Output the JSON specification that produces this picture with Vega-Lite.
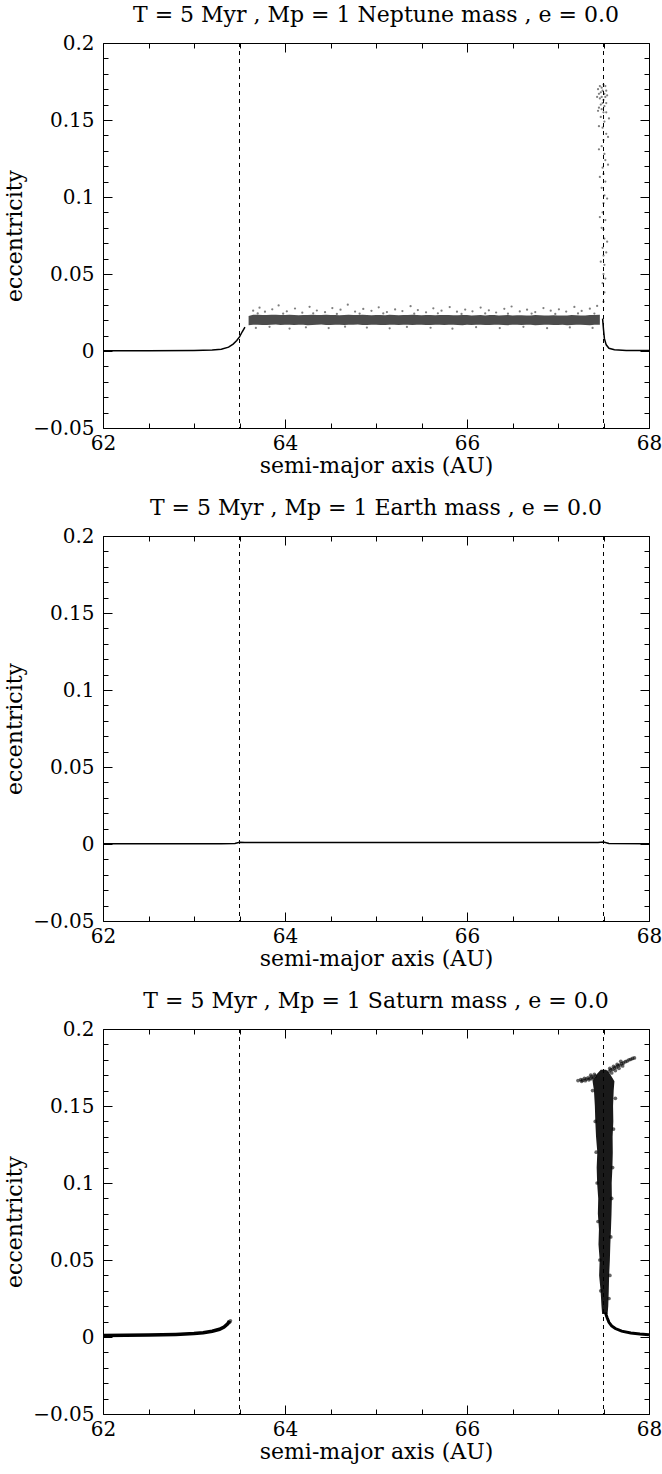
{
  "$schema": "https://vega.github.io/schema/vega-lite/v6.json",
  "padding": {"left": 3, "top": 3, "right": 10, "bottom": 2},
  "spacing": 19,
  "config": {
    "view": {"stroke": "black", "strokeWidth": 1},
    "axis": {"labelFont": "DejaVu Serif", "labelFontSize": 20, "labelColor": "black", "titleFont": "DejaVu Serif", "titleFontSize": 22, "titleFontWeight": "normal", "titleColor": "black", "tickColor": "black", "tickWidth": 1, "labelFlush": false, "grid": false, "domain": false},
    "title": {"font": "DejaVu Serif", "fontSize": 22, "fontWeight": "normal", "color": "black", "offset": 6, "anchor": "middle"}
  },
  "datasets": {
    "frame": [{"a": 62, "e": -0.05}, {"a": 68, "e": 0.2}],
    "vl": [{"a": 63.5}, {"a": 67.5}],
    "n_line1": [{"a": 62, "e": 0.0002}, {"a": 62.5, "e": 0.0002}, {"a": 63, "e": 0.0003}, {"a": 63.2, "e": 0.0006}, {"a": 63.3, "e": 0.0012}, {"a": 63.38, "e": 0.0025}, {"a": 63.43, "e": 0.0045}, {"a": 63.47, "e": 0.0068}, {"a": 63.5, "e": 0.0092}, {"a": 63.53, "e": 0.0125}, {"a": 63.56, "e": 0.0155}],
    "n_line2": [{"a": 67.49, "e": 0.021}, {"a": 67.5, "e": 0.014}, {"a": 67.51, "e": 0.008}, {"a": 67.53, "e": 0.004}, {"a": 67.56, "e": 0.0018}, {"a": 67.62, "e": 0.0008}, {"a": 67.75, "e": 0.0004}, {"a": 68, "e": 0.0003}],
    "n_band": [
      {"a": 63.6, "lo": 0.0167, "hi": 0.0228}, {"a": 63.65, "lo": 0.017, "hi": 0.0235}, {"a": 63.7, "lo": 0.0171, "hi": 0.0236}, {"a": 63.75, "lo": 0.0169, "hi": 0.0233}, {"a": 63.8, "lo": 0.0169, "hi": 0.0234}, {"a": 63.85, "lo": 0.0171, "hi": 0.0236}, {"a": 63.9, "lo": 0.0172, "hi": 0.0236}, {"a": 63.95, "lo": 0.0169, "hi": 0.0233}, {"a": 64.0, "lo": 0.017, "hi": 0.0234},
      {"a": 64.05, "lo": 0.0171, "hi": 0.0235}, {"a": 64.1, "lo": 0.0169, "hi": 0.0234}, {"a": 64.15, "lo": 0.017, "hi": 0.0232}, {"a": 64.2, "lo": 0.0171, "hi": 0.0233}, {"a": 64.25, "lo": 0.0168, "hi": 0.0234}, {"a": 64.3, "lo": 0.0169, "hi": 0.0235}, {"a": 64.35, "lo": 0.0171, "hi": 0.0233}, {"a": 64.4, "lo": 0.0172, "hi": 0.0233}, {"a": 64.45, "lo": 0.0169, "hi": 0.0235}, {"a": 64.5, "lo": 0.0169, "hi": 0.0234},
      {"a": 64.55, "lo": 0.0171, "hi": 0.0233}, {"a": 64.6, "lo": 0.0171, "hi": 0.0232}, {"a": 64.65, "lo": 0.0169, "hi": 0.0234}, {"a": 64.7, "lo": 0.017, "hi": 0.0235}, {"a": 64.75, "lo": 0.0171, "hi": 0.0233}, {"a": 64.8, "lo": 0.0172, "hi": 0.0233}, {"a": 64.85, "lo": 0.0169, "hi": 0.0235}, {"a": 64.9, "lo": 0.0169, "hi": 0.0233}, {"a": 64.95, "lo": 0.0171, "hi": 0.0232}, {"a": 65.0, "lo": 0.0171, "hi": 0.0234},
      {"a": 65.05, "lo": 0.0169, "hi": 0.0233}, {"a": 65.1, "lo": 0.0169, "hi": 0.0232}, {"a": 65.15, "lo": 0.0171, "hi": 0.0235}, {"a": 65.2, "lo": 0.017, "hi": 0.0234}, {"a": 65.25, "lo": 0.0169, "hi": 0.0232}, {"a": 65.3, "lo": 0.0171, "hi": 0.0233}, {"a": 65.35, "lo": 0.017, "hi": 0.0234}, {"a": 65.4, "lo": 0.0169, "hi": 0.0235}, {"a": 65.45, "lo": 0.0171, "hi": 0.0233}, {"a": 65.5, "lo": 0.0171, "hi": 0.0232},
      {"a": 65.55, "lo": 0.0169, "hi": 0.0234}, {"a": 65.6, "lo": 0.0169, "hi": 0.0233}, {"a": 65.65, "lo": 0.0171, "hi": 0.0232}, {"a": 65.7, "lo": 0.0171, "hi": 0.0233}, {"a": 65.75, "lo": 0.0169, "hi": 0.0234}, {"a": 65.8, "lo": 0.017, "hi": 0.0234}, {"a": 65.85, "lo": 0.0171, "hi": 0.0232}, {"a": 65.9, "lo": 0.0169, "hi": 0.0232}, {"a": 65.95, "lo": 0.0168, "hi": 0.0233}, {"a": 66.0, "lo": 0.0171, "hi": 0.0233},
      {"a": 66.05, "lo": 0.0169, "hi": 0.0231}, {"a": 66.1, "lo": 0.017, "hi": 0.0232}, {"a": 66.15, "lo": 0.0171, "hi": 0.0234}, {"a": 66.2, "lo": 0.0169, "hi": 0.0231}, {"a": 66.25, "lo": 0.0169, "hi": 0.0233}, {"a": 66.3, "lo": 0.0171, "hi": 0.0233}, {"a": 66.35, "lo": 0.0171, "hi": 0.0231}, {"a": 66.4, "lo": 0.0169, "hi": 0.0232}, {"a": 66.45, "lo": 0.0168, "hi": 0.0233}, {"a": 66.5, "lo": 0.0171, "hi": 0.0231},
      {"a": 66.55, "lo": 0.017, "hi": 0.0232}, {"a": 66.6, "lo": 0.0169, "hi": 0.0232}, {"a": 66.65, "lo": 0.0171, "hi": 0.0231}, {"a": 66.7, "lo": 0.017, "hi": 0.0231}, {"a": 66.75, "lo": 0.0168, "hi": 0.0233}, {"a": 66.8, "lo": 0.0169, "hi": 0.0232}, {"a": 66.85, "lo": 0.0171, "hi": 0.0231}, {"a": 66.9, "lo": 0.0171, "hi": 0.023}, {"a": 66.95, "lo": 0.0169, "hi": 0.0232}, {"a": 67.0, "lo": 0.0169, "hi": 0.0231},
      {"a": 67.05, "lo": 0.0171, "hi": 0.023}, {"a": 67.1, "lo": 0.0168, "hi": 0.0231}, {"a": 67.15, "lo": 0.0169, "hi": 0.0233}, {"a": 67.2, "lo": 0.017, "hi": 0.0232}, {"a": 67.25, "lo": 0.0171, "hi": 0.0231}, {"a": 67.3, "lo": 0.0169, "hi": 0.0231}, {"a": 67.35, "lo": 0.0168, "hi": 0.0233}, {"a": 67.4, "lo": 0.017, "hi": 0.0233}, {"a": 67.46, "lo": 0.017, "hi": 0.0236}
    ],
    "n_pts": [
      {"a": 63.65, "e": 0.0262}, {"a": 63.72, "e": 0.0281}, {"a": 63.78, "e": 0.0255}, {"a": 63.86, "e": 0.0271}, {"a": 63.93, "e": 0.0296}, {"a": 64.02, "e": 0.0258}, {"a": 64.11, "e": 0.0276}, {"a": 64.19, "e": 0.0249}, {"a": 64.27, "e": 0.0287}, {"a": 64.35, "e": 0.0263},
      {"a": 64.44, "e": 0.0252}, {"a": 64.52, "e": 0.0279}, {"a": 64.61, "e": 0.0268}, {"a": 64.69, "e": 0.0301}, {"a": 64.77, "e": 0.0256}, {"a": 64.86, "e": 0.0273}, {"a": 64.95, "e": 0.0261}, {"a": 65.03, "e": 0.0284}, {"a": 65.12, "e": 0.0253}, {"a": 65.21, "e": 0.027},
      {"a": 65.29, "e": 0.0259}, {"a": 65.38, "e": 0.0291}, {"a": 65.46, "e": 0.0266}, {"a": 65.55, "e": 0.0251}, {"a": 65.63, "e": 0.0277}, {"a": 65.72, "e": 0.0262}, {"a": 65.81, "e": 0.0285}, {"a": 65.89, "e": 0.0255}, {"a": 65.98, "e": 0.0269}, {"a": 66.06, "e": 0.0258},
      {"a": 66.15, "e": 0.0282}, {"a": 66.24, "e": 0.0264}, {"a": 66.32, "e": 0.025}, {"a": 66.41, "e": 0.0274}, {"a": 66.49, "e": 0.0289}, {"a": 66.58, "e": 0.0257}, {"a": 66.66, "e": 0.0268}, {"a": 66.75, "e": 0.0253}, {"a": 66.84, "e": 0.0279}, {"a": 66.92, "e": 0.0262},
      {"a": 67.01, "e": 0.0271}, {"a": 67.09, "e": 0.0256}, {"a": 67.18, "e": 0.0286}, {"a": 67.26, "e": 0.026}, {"a": 67.35, "e": 0.0275}, {"a": 67.43, "e": 0.0293},
      {"a": 63.7, "e": 0.0244}, {"a": 63.98, "e": 0.0242}, {"a": 64.31, "e": 0.0245}, {"a": 64.57, "e": 0.0241}, {"a": 64.82, "e": 0.0243}, {"a": 65.08, "e": 0.0244}, {"a": 65.42, "e": 0.0242}, {"a": 65.68, "e": 0.0245}, {"a": 65.94, "e": 0.0241},
      {"a": 66.2, "e": 0.0244}, {"a": 66.45, "e": 0.0242}, {"a": 66.71, "e": 0.0243}, {"a": 66.97, "e": 0.0241}, {"a": 67.22, "e": 0.0244}, {"a": 67.4, "e": 0.0243},
      {"a": 63.68, "e": 0.015}, {"a": 63.83, "e": 0.0157}, {"a": 64.05, "e": 0.0146}, {"a": 64.23, "e": 0.0154}, {"a": 64.48, "e": 0.0149}, {"a": 64.66, "e": 0.0158}, {"a": 64.9, "e": 0.0152}, {"a": 65.15, "e": 0.0147}, {"a": 65.34, "e": 0.0156},
      {"a": 65.6, "e": 0.0151}, {"a": 65.84, "e": 0.0145}, {"a": 66.1, "e": 0.0155}, {"a": 66.36, "e": 0.0149}, {"a": 66.62, "e": 0.0157}, {"a": 66.88, "e": 0.0148}, {"a": 67.13, "e": 0.0153}, {"a": 67.38, "e": 0.015},
      {"a": 67.5, "e": 0.032}, {"a": 67.51, "e": 0.038}, {"a": 67.49, "e": 0.044}, {"a": 67.5, "e": 0.05}, {"a": 67.51, "e": 0.056}, {"a": 67.5, "e": 0.062}, {"a": 67.49, "e": 0.067}, {"a": 67.51, "e": 0.073}, {"a": 67.5, "e": 0.079}, {"a": 67.52, "e": 0.085},
      {"a": 67.49, "e": 0.09}, {"a": 67.5, "e": 0.096}, {"a": 67.51, "e": 0.101}, {"a": 67.48, "e": 0.106}, {"a": 67.52, "e": 0.11}, {"a": 67.5, "e": 0.115}, {"a": 67.49, "e": 0.119}, {"a": 67.52, "e": 0.124}, {"a": 67.51, "e": 0.128}, {"a": 67.48, "e": 0.133},
      {"a": 67.5, "e": 0.137}, {"a": 67.53, "e": 0.141}, {"a": 67.49, "e": 0.145}, {"a": 67.51, "e": 0.149}, {"a": 67.47, "e": 0.152}, {"a": 67.53, "e": 0.155},
      {"a": 67.47, "e": 0.058}, {"a": 67.54, "e": 0.071}, {"a": 67.46, "e": 0.087}, {"a": 67.54, "e": 0.099}, {"a": 67.46, "e": 0.113}, {"a": 67.55, "e": 0.121}, {"a": 67.45, "e": 0.131}, {"a": 67.55, "e": 0.139}, {"a": 67.45, "e": 0.146}, {"a": 67.56, "e": 0.151},
      {"a": 67.44, "e": 0.156}, {"a": 67.52, "e": 0.047}, {"a": 67.48, "e": 0.08}, {"a": 67.53, "e": 0.064},
      {"a": 67.44, "e": 0.17}, {"a": 67.46, "e": 0.172}, {"a": 67.48, "e": 0.171}, {"a": 67.5, "e": 0.173}, {"a": 67.52, "e": 0.172}, {"a": 67.45, "e": 0.167}, {"a": 67.47, "e": 0.168}, {"a": 67.49, "e": 0.169}, {"a": 67.51, "e": 0.167}, {"a": 67.53, "e": 0.169},
      {"a": 67.46, "e": 0.164}, {"a": 67.48, "e": 0.165}, {"a": 67.5, "e": 0.163}, {"a": 67.52, "e": 0.165}, {"a": 67.47, "e": 0.16}, {"a": 67.49, "e": 0.161}, {"a": 67.51, "e": 0.159}, {"a": 67.45, "e": 0.158}, {"a": 67.53, "e": 0.161}, {"a": 67.48, "e": 0.157},
      {"a": 67.5, "e": 0.155}, {"a": 67.54, "e": 0.166}, {"a": 67.43, "e": 0.165}
    ],
    "e_line": [{"a": 62, "e": 0.0002}, {"a": 63.3, "e": 0.0002}, {"a": 63.45, "e": 0.0004}, {"a": 63.5, "e": 0.0012}, {"a": 63.56, "e": 0.001}, {"a": 65.5, "e": 0.0009}, {"a": 67.44, "e": 0.001}, {"a": 67.5, "e": 0.0013}, {"a": 67.56, "e": 0.0004}, {"a": 68, "e": 0.0002}],
    "s_line1": [{"a": 62, "e": 0.001}, {"a": 62.5, "e": 0.0013}, {"a": 62.8, "e": 0.0017}, {"a": 63, "e": 0.0022}, {"a": 63.1, "e": 0.0028}, {"a": 63.2, "e": 0.0037}, {"a": 63.28, "e": 0.005}, {"a": 63.33, "e": 0.0065}, {"a": 63.37, "e": 0.0085}, {"a": 63.39, "e": 0.0105}],
    "s_line2": [{"a": 67.52, "e": 0.016}, {"a": 67.54, "e": 0.0125}, {"a": 67.56, "e": 0.0095}, {"a": 67.59, "e": 0.0072}, {"a": 67.63, "e": 0.0055}, {"a": 67.7, "e": 0.0038}, {"a": 67.8, "e": 0.0026}, {"a": 67.9, "e": 0.0019}, {"a": 68, "e": 0.0015}],
    "s_col": [
      {"e": 0.015, "a1": 67.485, "a2": 67.545}, {"e": 0.02, "a1": 67.478, "a2": 67.552}, {"e": 0.03, "a1": 67.468, "a2": 67.558}, {"e": 0.04, "a1": 67.452, "a2": 67.562}, {"e": 0.05, "a1": 67.458, "a2": 67.57},
      {"e": 0.06, "a1": 67.445, "a2": 67.575}, {"e": 0.07, "a1": 67.45, "a2": 67.582}, {"e": 0.08, "a1": 67.438, "a2": 67.588}, {"e": 0.09, "a1": 67.442, "a2": 67.592}, {"e": 0.1, "a1": 67.43, "a2": 67.59},
      {"e": 0.11, "a1": 67.425, "a2": 67.598}, {"e": 0.12, "a1": 67.432, "a2": 67.602}, {"e": 0.13, "a1": 67.418, "a2": 67.6}, {"e": 0.14, "a1": 67.41, "a2": 67.608}, {"e": 0.15, "a1": 67.405, "a2": 67.605},
      {"e": 0.16, "a1": 67.395, "a2": 67.612}, {"e": 0.166, "a1": 67.38, "a2": 67.62}, {"e": 0.171, "a1": 67.43, "a2": 67.57}, {"e": 0.1735, "a1": 67.47, "a2": 67.53}
    ],
    "s_pts": [
      {"a": 67.22, "e": 0.1665}, {"a": 67.25, "e": 0.1672}, {"a": 67.27, "e": 0.1668}, {"a": 67.29, "e": 0.168}, {"a": 67.31, "e": 0.1675}, {"a": 67.33, "e": 0.1683}, {"a": 67.35, "e": 0.1678}, {"a": 67.37, "e": 0.169}, {"a": 67.39, "e": 0.1685}, {"a": 67.41, "e": 0.1695},
      {"a": 67.26, "e": 0.166}, {"a": 67.3, "e": 0.1664}, {"a": 67.34, "e": 0.167}, {"a": 67.38, "e": 0.1676}, {"a": 67.36, "e": 0.17}, {"a": 67.4, "e": 0.1705},
      {"a": 67.56, "e": 0.1725}, {"a": 67.58, "e": 0.1735}, {"a": 67.6, "e": 0.1738}, {"a": 67.62, "e": 0.1748}, {"a": 67.64, "e": 0.1752}, {"a": 67.66, "e": 0.1762}, {"a": 67.68, "e": 0.1766}, {"a": 67.7, "e": 0.1775}, {"a": 67.72, "e": 0.178}, {"a": 67.74, "e": 0.1788},
      {"a": 67.76, "e": 0.1792}, {"a": 67.78, "e": 0.18}, {"a": 67.8, "e": 0.1803}, {"a": 67.82, "e": 0.1809}, {"a": 67.84, "e": 0.1812}, {"a": 67.59, "e": 0.1715}, {"a": 67.63, "e": 0.173}, {"a": 67.67, "e": 0.1745}, {"a": 67.71, "e": 0.176}, {"a": 67.57, "e": 0.1745},
      {"a": 67.61, "e": 0.1758}, {"a": 67.65, "e": 0.177}, {"a": 67.69, "e": 0.179},
      {"a": 67.38, "e": 0.16}, {"a": 67.63, "e": 0.155}, {"a": 67.41, "e": 0.14}, {"a": 67.61, "e": 0.135}, {"a": 67.42, "e": 0.12}, {"a": 67.6, "e": 0.11}, {"a": 67.43, "e": 0.1}, {"a": 67.59, "e": 0.09}, {"a": 67.44, "e": 0.075}, {"a": 67.58, "e": 0.065},
      {"a": 67.46, "e": 0.05}, {"a": 67.57, "e": 0.04}, {"a": 67.47, "e": 0.03}, {"a": 67.56, "e": 0.025}, {"a": 63.4, "e": 0.0105}, {"a": 63.39, "e": 0.0095}
    ]
  },
  "vconcat": [
    {
      "width": 546, "height": 385,
      "title": {"text": "T = 5 Myr , Mp = 1 Neptune mass , e = 0.0"},
      "resolve": {"axis": {"x": "independent", "y": "independent"}},
      "layer": [
        {"data": {"name": "frame"}, "mark": {"type": "point", "opacity": 0},
         "encoding": {"x": {"field": "a", "type": "quantitative", "scale": {"domain": [62, 68], "nice": false, "zero": false}, "axis": {"orient": "bottom", "values": [62, 64, 66, 68], "format": "d", "ticks": false, "labelPadding": 5, "title": "semi-major axis (AU)", "titlePadding": 2}},
                      "y": {"field": "e", "type": "quantitative", "scale": {"domain": [-0.05, 0.2], "nice": false, "zero": false}, "axis": {"orient": "left", "values": [-0.05, 0, 0.05, 0.1, 0.15, 0.2], "format": "~g", "ticks": false, "labelPadding": 9, "title": "eccentricity", "titlePadding": 6}}}},
        {"data": {"name": "frame"}, "mark": {"type": "point", "opacity": 0},
         "encoding": {"x": {"field": "a", "type": "quantitative", "scale": {"domain": [62, 68], "nice": false, "zero": false}, "axis": {"orient": "bottom", "values": [62, 64, 66, 68], "labels": false, "tickSize": 9, "offset": -9, "title": null}},
                      "y": {"field": "e", "type": "quantitative", "scale": {"domain": [-0.05, 0.2], "nice": false, "zero": false}, "axis": {"orient": "left", "values": [-0.05, 0, 0.05, 0.1, 0.15, 0.2], "labels": false, "tickSize": 9, "offset": -9, "title": null}}}},
        {"data": {"name": "frame"}, "mark": {"type": "point", "opacity": 0},
         "encoding": {"x": {"field": "a", "type": "quantitative", "scale": {"domain": [62, 68], "nice": false, "zero": false}, "axis": {"orient": "bottom", "values": [62.5, 63, 63.5, 64.5, 65, 65.5, 66.5, 67, 67.5], "labels": false, "tickSize": 5, "offset": -5, "title": null}},
                      "y": {"field": "e", "type": "quantitative", "scale": {"domain": [-0.05, 0.2], "nice": false, "zero": false}, "axis": {"orient": "left", "values": [-0.04, -0.03, -0.02, -0.01, 0.01, 0.02, 0.03, 0.04, 0.06, 0.07, 0.08, 0.09, 0.11, 0.12, 0.13, 0.14, 0.16, 0.17, 0.18, 0.19], "labels": false, "tickSize": 5, "offset": -5, "title": null}}}},
        {"data": {"name": "frame"}, "mark": {"type": "point", "opacity": 0},
         "encoding": {"x": {"field": "a", "type": "quantitative", "scale": {"domain": [62, 68], "nice": false, "zero": false}, "axis": {"orient": "top", "values": [62, 64, 66, 68], "labels": false, "tickSize": 9, "offset": -9, "title": null}},
                      "y": {"field": "e", "type": "quantitative", "scale": {"domain": [-0.05, 0.2], "nice": false, "zero": false}, "axis": {"orient": "right", "values": [-0.05, 0, 0.05, 0.1, 0.15, 0.2], "labels": false, "tickSize": 9, "offset": -9, "title": null}}}},
        {"data": {"name": "frame"}, "mark": {"type": "point", "opacity": 0},
         "encoding": {"x": {"field": "a", "type": "quantitative", "scale": {"domain": [62, 68], "nice": false, "zero": false}, "axis": {"orient": "top", "values": [62.5, 63, 63.5, 64.5, 65, 65.5, 66.5, 67, 67.5], "labels": false, "tickSize": 5, "offset": -5, "title": null}},
                      "y": {"field": "e", "type": "quantitative", "scale": {"domain": [-0.05, 0.2], "nice": false, "zero": false}, "axis": {"orient": "right", "values": [-0.04, -0.03, -0.02, -0.01, 0.01, 0.02, 0.03, 0.04, 0.06, 0.07, 0.08, 0.09, 0.11, 0.12, 0.13, 0.14, 0.16, 0.17, 0.18, 0.19], "labels": false, "tickSize": 5, "offset": -5, "title": null}}}},
        {"data": {"name": "vl"}, "mark": {"type": "rule", "color": "black", "strokeWidth": 1, "strokeDash": [4, 4]},
         "encoding": {"x": {"field": "a", "type": "quantitative", "scale": {"domain": [62, 68], "nice": false, "zero": false}, "axis": null}}},
        {"data": {"name": "n_band"}, "mark": {"type": "area", "color": "#1a1a1a", "opacity": 0.78},
         "encoding": {"x": {"field": "a", "type": "quantitative", "scale": {"domain": [62, 68], "nice": false, "zero": false}, "axis": null},
                      "y": {"field": "lo", "type": "quantitative", "scale": {"domain": [-0.05, 0.2], "nice": false, "zero": false}, "axis": null}, "y2": {"field": "hi"}}},
        {"data": {"name": "n_pts"}, "mark": {"type": "circle", "color": "black", "size": 5, "opacity": 0.5},
         "encoding": {"x": {"field": "a", "type": "quantitative", "scale": {"domain": [62, 68], "nice": false, "zero": false}, "axis": null},
                      "y": {"field": "e", "type": "quantitative", "scale": {"domain": [-0.05, 0.2], "nice": false, "zero": false}, "axis": null}}},
        {"data": {"name": "n_line1"}, "mark": {"type": "line", "color": "black", "strokeWidth": 1.5},
         "encoding": {"x": {"field": "a", "type": "quantitative", "scale": {"domain": [62, 68], "nice": false, "zero": false}, "axis": null},
                      "y": {"field": "e", "type": "quantitative", "scale": {"domain": [-0.05, 0.2], "nice": false, "zero": false}, "axis": null}}},
        {"data": {"name": "n_line2"}, "mark": {"type": "line", "color": "black", "strokeWidth": 1.5},
         "encoding": {"x": {"field": "a", "type": "quantitative", "scale": {"domain": [62, 68], "nice": false, "zero": false}, "axis": null},
                      "y": {"field": "e", "type": "quantitative", "scale": {"domain": [-0.05, 0.2], "nice": false, "zero": false}, "axis": null}}}
      ]
    },
    {
      "width": 546, "height": 385,
      "title": {"text": "T = 5 Myr , Mp = 1 Earth mass , e = 0.0"},
      "resolve": {"axis": {"x": "independent", "y": "independent"}},
      "layer": [
        {"data": {"name": "frame"}, "mark": {"type": "point", "opacity": 0},
         "encoding": {"x": {"field": "a", "type": "quantitative", "scale": {"domain": [62, 68], "nice": false, "zero": false}, "axis": {"orient": "bottom", "values": [62, 64, 66, 68], "format": "d", "ticks": false, "labelPadding": 5, "title": "semi-major axis (AU)", "titlePadding": 2}},
                      "y": {"field": "e", "type": "quantitative", "scale": {"domain": [-0.05, 0.2], "nice": false, "zero": false}, "axis": {"orient": "left", "values": [-0.05, 0, 0.05, 0.1, 0.15, 0.2], "format": "~g", "ticks": false, "labelPadding": 9, "title": "eccentricity", "titlePadding": 6}}}},
        {"data": {"name": "frame"}, "mark": {"type": "point", "opacity": 0},
         "encoding": {"x": {"field": "a", "type": "quantitative", "scale": {"domain": [62, 68], "nice": false, "zero": false}, "axis": {"orient": "bottom", "values": [62, 64, 66, 68], "labels": false, "tickSize": 9, "offset": -9, "title": null}},
                      "y": {"field": "e", "type": "quantitative", "scale": {"domain": [-0.05, 0.2], "nice": false, "zero": false}, "axis": {"orient": "left", "values": [-0.05, 0, 0.05, 0.1, 0.15, 0.2], "labels": false, "tickSize": 9, "offset": -9, "title": null}}}},
        {"data": {"name": "frame"}, "mark": {"type": "point", "opacity": 0},
         "encoding": {"x": {"field": "a", "type": "quantitative", "scale": {"domain": [62, 68], "nice": false, "zero": false}, "axis": {"orient": "bottom", "values": [62.5, 63, 63.5, 64.5, 65, 65.5, 66.5, 67, 67.5], "labels": false, "tickSize": 5, "offset": -5, "title": null}},
                      "y": {"field": "e", "type": "quantitative", "scale": {"domain": [-0.05, 0.2], "nice": false, "zero": false}, "axis": {"orient": "left", "values": [-0.04, -0.03, -0.02, -0.01, 0.01, 0.02, 0.03, 0.04, 0.06, 0.07, 0.08, 0.09, 0.11, 0.12, 0.13, 0.14, 0.16, 0.17, 0.18, 0.19], "labels": false, "tickSize": 5, "offset": -5, "title": null}}}},
        {"data": {"name": "frame"}, "mark": {"type": "point", "opacity": 0},
         "encoding": {"x": {"field": "a", "type": "quantitative", "scale": {"domain": [62, 68], "nice": false, "zero": false}, "axis": {"orient": "top", "values": [62, 64, 66, 68], "labels": false, "tickSize": 9, "offset": -9, "title": null}},
                      "y": {"field": "e", "type": "quantitative", "scale": {"domain": [-0.05, 0.2], "nice": false, "zero": false}, "axis": {"orient": "right", "values": [-0.05, 0, 0.05, 0.1, 0.15, 0.2], "labels": false, "tickSize": 9, "offset": -9, "title": null}}}},
        {"data": {"name": "frame"}, "mark": {"type": "point", "opacity": 0},
         "encoding": {"x": {"field": "a", "type": "quantitative", "scale": {"domain": [62, 68], "nice": false, "zero": false}, "axis": {"orient": "top", "values": [62.5, 63, 63.5, 64.5, 65, 65.5, 66.5, 67, 67.5], "labels": false, "tickSize": 5, "offset": -5, "title": null}},
                      "y": {"field": "e", "type": "quantitative", "scale": {"domain": [-0.05, 0.2], "nice": false, "zero": false}, "axis": {"orient": "right", "values": [-0.04, -0.03, -0.02, -0.01, 0.01, 0.02, 0.03, 0.04, 0.06, 0.07, 0.08, 0.09, 0.11, 0.12, 0.13, 0.14, 0.16, 0.17, 0.18, 0.19], "labels": false, "tickSize": 5, "offset": -5, "title": null}}}},
        {"data": {"name": "vl"}, "mark": {"type": "rule", "color": "black", "strokeWidth": 1, "strokeDash": [4, 4]},
         "encoding": {"x": {"field": "a", "type": "quantitative", "scale": {"domain": [62, 68], "nice": false, "zero": false}, "axis": null}}},
        {"data": {"name": "e_line"}, "mark": {"type": "line", "color": "black", "strokeWidth": 1.5},
         "encoding": {"x": {"field": "a", "type": "quantitative", "scale": {"domain": [62, 68], "nice": false, "zero": false}, "axis": null},
                      "y": {"field": "e", "type": "quantitative", "scale": {"domain": [-0.05, 0.2], "nice": false, "zero": false}, "axis": null}}}
      ]
    },
    {
      "width": 546, "height": 385,
      "title": {"text": "T = 5 Myr , Mp = 1 Saturn mass , e = 0.0"},
      "resolve": {"axis": {"x": "independent", "y": "independent"}},
      "layer": [
        {"data": {"name": "frame"}, "mark": {"type": "point", "opacity": 0},
         "encoding": {"x": {"field": "a", "type": "quantitative", "scale": {"domain": [62, 68], "nice": false, "zero": false}, "axis": {"orient": "bottom", "values": [62, 64, 66, 68], "format": "d", "ticks": false, "labelPadding": 5, "title": "semi-major axis (AU)", "titlePadding": 2}},
                      "y": {"field": "e", "type": "quantitative", "scale": {"domain": [-0.05, 0.2], "nice": false, "zero": false}, "axis": {"orient": "left", "values": [-0.05, 0, 0.05, 0.1, 0.15, 0.2], "format": "~g", "ticks": false, "labelPadding": 9, "title": "eccentricity", "titlePadding": 6}}}},
        {"data": {"name": "frame"}, "mark": {"type": "point", "opacity": 0},
         "encoding": {"x": {"field": "a", "type": "quantitative", "scale": {"domain": [62, 68], "nice": false, "zero": false}, "axis": {"orient": "bottom", "values": [62, 64, 66, 68], "labels": false, "tickSize": 9, "offset": -9, "title": null}},
                      "y": {"field": "e", "type": "quantitative", "scale": {"domain": [-0.05, 0.2], "nice": false, "zero": false}, "axis": {"orient": "left", "values": [-0.05, 0, 0.05, 0.1, 0.15, 0.2], "labels": false, "tickSize": 9, "offset": -9, "title": null}}}},
        {"data": {"name": "frame"}, "mark": {"type": "point", "opacity": 0},
         "encoding": {"x": {"field": "a", "type": "quantitative", "scale": {"domain": [62, 68], "nice": false, "zero": false}, "axis": {"orient": "bottom", "values": [62.5, 63, 63.5, 64.5, 65, 65.5, 66.5, 67, 67.5], "labels": false, "tickSize": 5, "offset": -5, "title": null}},
                      "y": {"field": "e", "type": "quantitative", "scale": {"domain": [-0.05, 0.2], "nice": false, "zero": false}, "axis": {"orient": "left", "values": [-0.04, -0.03, -0.02, -0.01, 0.01, 0.02, 0.03, 0.04, 0.06, 0.07, 0.08, 0.09, 0.11, 0.12, 0.13, 0.14, 0.16, 0.17, 0.18, 0.19], "labels": false, "tickSize": 5, "offset": -5, "title": null}}}},
        {"data": {"name": "frame"}, "mark": {"type": "point", "opacity": 0},
         "encoding": {"x": {"field": "a", "type": "quantitative", "scale": {"domain": [62, 68], "nice": false, "zero": false}, "axis": {"orient": "top", "values": [62, 64, 66, 68], "labels": false, "tickSize": 9, "offset": -9, "title": null}},
                      "y": {"field": "e", "type": "quantitative", "scale": {"domain": [-0.05, 0.2], "nice": false, "zero": false}, "axis": {"orient": "right", "values": [-0.05, 0, 0.05, 0.1, 0.15, 0.2], "labels": false, "tickSize": 9, "offset": -9, "title": null}}}},
        {"data": {"name": "frame"}, "mark": {"type": "point", "opacity": 0},
         "encoding": {"x": {"field": "a", "type": "quantitative", "scale": {"domain": [62, 68], "nice": false, "zero": false}, "axis": {"orient": "top", "values": [62.5, 63, 63.5, 64.5, 65, 65.5, 66.5, 67, 67.5], "labels": false, "tickSize": 5, "offset": -5, "title": null}},
                      "y": {"field": "e", "type": "quantitative", "scale": {"domain": [-0.05, 0.2], "nice": false, "zero": false}, "axis": {"orient": "right", "values": [-0.04, -0.03, -0.02, -0.01, 0.01, 0.02, 0.03, 0.04, 0.06, 0.07, 0.08, 0.09, 0.11, 0.12, 0.13, 0.14, 0.16, 0.17, 0.18, 0.19], "labels": false, "tickSize": 5, "offset": -5, "title": null}}}},
        {"data": {"name": "vl"}, "mark": {"type": "rule", "color": "black", "strokeWidth": 1, "strokeDash": [4, 4]},
         "encoding": {"x": {"field": "a", "type": "quantitative", "scale": {"domain": [62, 68], "nice": false, "zero": false}, "axis": null}}},
        {"data": {"name": "s_col"}, "mark": {"type": "area", "orient": "horizontal", "color": "black", "opacity": 0.9},
         "encoding": {"y": {"field": "e", "type": "quantitative", "scale": {"domain": [-0.05, 0.2], "nice": false, "zero": false}, "axis": null},
                      "x": {"field": "a1", "type": "quantitative", "scale": {"domain": [62, 68], "nice": false, "zero": false}, "axis": null}, "x2": {"field": "a2"}}},
        {"data": {"name": "s_pts"}, "mark": {"type": "circle", "color": "black", "size": 14, "opacity": 0.6},
         "encoding": {"x": {"field": "a", "type": "quantitative", "scale": {"domain": [62, 68], "nice": false, "zero": false}, "axis": null},
                      "y": {"field": "e", "type": "quantitative", "scale": {"domain": [-0.05, 0.2], "nice": false, "zero": false}, "axis": null}}},
        {"data": {"name": "s_line1"}, "mark": {"type": "line", "color": "black", "strokeWidth": 3.5},
         "encoding": {"x": {"field": "a", "type": "quantitative", "scale": {"domain": [62, 68], "nice": false, "zero": false}, "axis": null},
                      "y": {"field": "e", "type": "quantitative", "scale": {"domain": [-0.05, 0.2], "nice": false, "zero": false}, "axis": null}}},
        {"data": {"name": "s_line2"}, "mark": {"type": "line", "color": "black", "strokeWidth": 3},
         "encoding": {"x": {"field": "a", "type": "quantitative", "scale": {"domain": [62, 68], "nice": false, "zero": false}, "axis": null},
                      "y": {"field": "e", "type": "quantitative", "scale": {"domain": [-0.05, 0.2], "nice": false, "zero": false}, "axis": null}}}
      ]
    }
  ]
}
